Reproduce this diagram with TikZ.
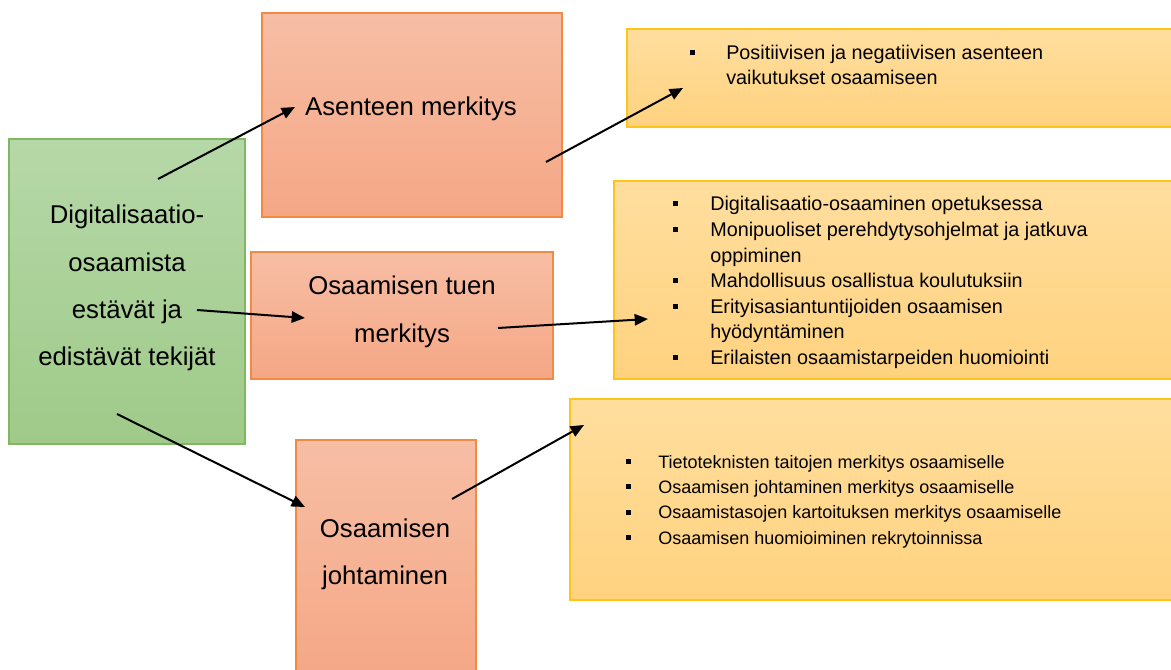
\documentclass[tikz,border=0pt]{standalone}
\usepackage{fontspec}
\setmainfont{Liberation Sans}
\usetikzlibrary{arrows.meta}
\definecolor{gtop}{HTML}{B6D8A8}
\definecolor{gbot}{HTML}{9FCA89}
\definecolor{gline}{HTML}{80B862}
\definecolor{rtop}{HTML}{F7BEA5}
\definecolor{rbot}{HTML}{F5A785}
\definecolor{rline}{HTML}{F08A45}
\definecolor{ytop}{HTML}{FFDE9E}
\definecolor{ybot}{HTML}{FFD27F}
\definecolor{yline}{HTML}{FFC416}
\newcommand{\bul}{\rule[3.4pt]{3.9pt}{3.9pt}}
\newcommand{\bulsm}{\rule[3.1pt]{3.6pt}{3.6pt}}
\tikzset{
  gbox/.style={draw=gline, line width=0.8pt, top color=gtop, bottom color=gbot, shading=axis, rectangle, inner sep=0pt},
  rbox/.style={draw=rline, line width=0.8pt, top color=rtop, bottom color=rbot, shading=axis, rectangle, inner sep=0pt},
  ybox/.style={draw=yline, line width=0.8pt, top color=ytop, bottom color=ybot, shading=axis, rectangle, inner sep=0pt},
  bigtxt/.style={inner sep=0pt, anchor=base, font=\fontsize{19.3}{35.3}\selectfont},
  listtxt/.style={inner sep=0pt, anchor=base west},
  conn/.style={line width=1.5pt, -{Triangle[length=10pt,width=8.5pt]}}
}
\begin{document}
\begin{tikzpicture}[x=0.75pt,y=-0.75pt]
\useasboundingbox (0,0) rectangle (1171,670);
\clip (0,0) rectangle (1171,670);
\fill[white] (0,0) rectangle (1171,670);
% boxes
\node[gbox, minimum width=236*0.75pt, minimum height=305*0.75pt] (green) at (127,291.5) {};
\node[rbox, minimum width=300*0.75pt, minimum height=204*0.75pt] (red1) at (412,115) {};
\node[rbox, minimum width=302*0.75pt, minimum height=127*0.75pt] (red2) at (402,315.5) {};
\node[rbox, minimum width=180*0.75pt, minimum height=240*0.75pt] (red3) at (386,560) {};
\node[ybox, minimum width=563*0.75pt, minimum height=98*0.75pt] (yel1) at (908.5,78) {};
\node[ybox, minimum width=576*0.75pt, minimum height=198*0.75pt] (yel2) at (902,280) {};
\node[ybox, minimum width=620*0.75pt, minimum height=201*0.75pt] (yel3) at (880,499.5) {};
% texts
\node[bigtxt] (gtxt) at (127,224) {\begin{tabular}[t]{@{}c@{}}Digitalisaatio-\\osaamista\\estävät ja\\edistävät tekijät\end{tabular}};
\node[bigtxt] (r1txt) at (411,116) {Asenteen merkitys};
\node[bigtxt] (r2txt) at (402,295) {\begin{tabular}[t]{@{}c@{}}Osaamisen tuen\\merkitys\end{tabular}};
\node[bigtxt] (r3txt) at (385,537) {\begin{tabular}[t]{@{}c@{}}Osaamisen\\johtaminen\end{tabular}};
\node[listtxt, font=\fontsize{14.85}{18.4}\selectfont] (y1txt) at (690,60) {\begin{tabular}[t]{@{}p{27pt}@{}l@{}}
\bul & Positiivisen ja negatiivisen asenteen\\
 & vaikutukset osaamiseen\end{tabular}};
\node[listtxt, font=\fontsize{14.85}{19.2}\selectfont] (y2txt) at (673,211) {\begin{tabular}[t]{@{}p{27.75pt}@{}l@{}}
\bul & Digitalisaatio-osaaminen opetuksessa\\
\bul & Monipuoliset perehdytysohjelmat ja jatkuva\\
 & oppiminen\\
\bul & Mahdollisuus osallistua koulutuksiin\\
\bul & Erityisasiantuntijoiden osaamisen\\
 & hyödyntäminen\\
\bul & Erilaisten osaamistarpeiden huomiointi\end{tabular}};
\node[listtxt, font=\fontsize{13.5}{19}\selectfont] (y3txt) at (626,468) {\begin{tabular}[t]{@{}p{24pt}@{}l@{}}
\bulsm & Tietoteknisten taitojen merkitys osaamiselle\\
\bulsm & Osaamisen johtaminen merkitys osaamiselle\\
\bulsm & Osaamistasojen kartoituksen merkitys osaamiselle\\
\bulsm & Osaamisen huomioiminen rekrytoinnissa\end{tabular}};
% connector end points
\coordinate (g1) at (158,179);
\coordinate (r1in) at (295,107);
\coordinate (r1out) at (546,162);
\coordinate (y1in) at (683,88);
\coordinate (g2) at (197,310);
\coordinate (r2in) at (305,318);
\coordinate (r2out) at (498,328);
\coordinate (y2in) at (648,319);
\coordinate (g3) at (117,414);
\coordinate (r3in) at (305,507);
\coordinate (r3out) at (452,499);
\coordinate (y3in) at (584,425);
% connectors
\draw[conn] (g1) -- (r1in);
\draw[conn] (r1out) -- (y1in);
\draw[conn] (g2) -- (r2in);
\draw[conn] (r2out) -- (y2in);
\draw[conn] (g3) -- (r3in);
\draw[conn] (r3out) -- (y3in);
\end{tikzpicture}
\end{document}
